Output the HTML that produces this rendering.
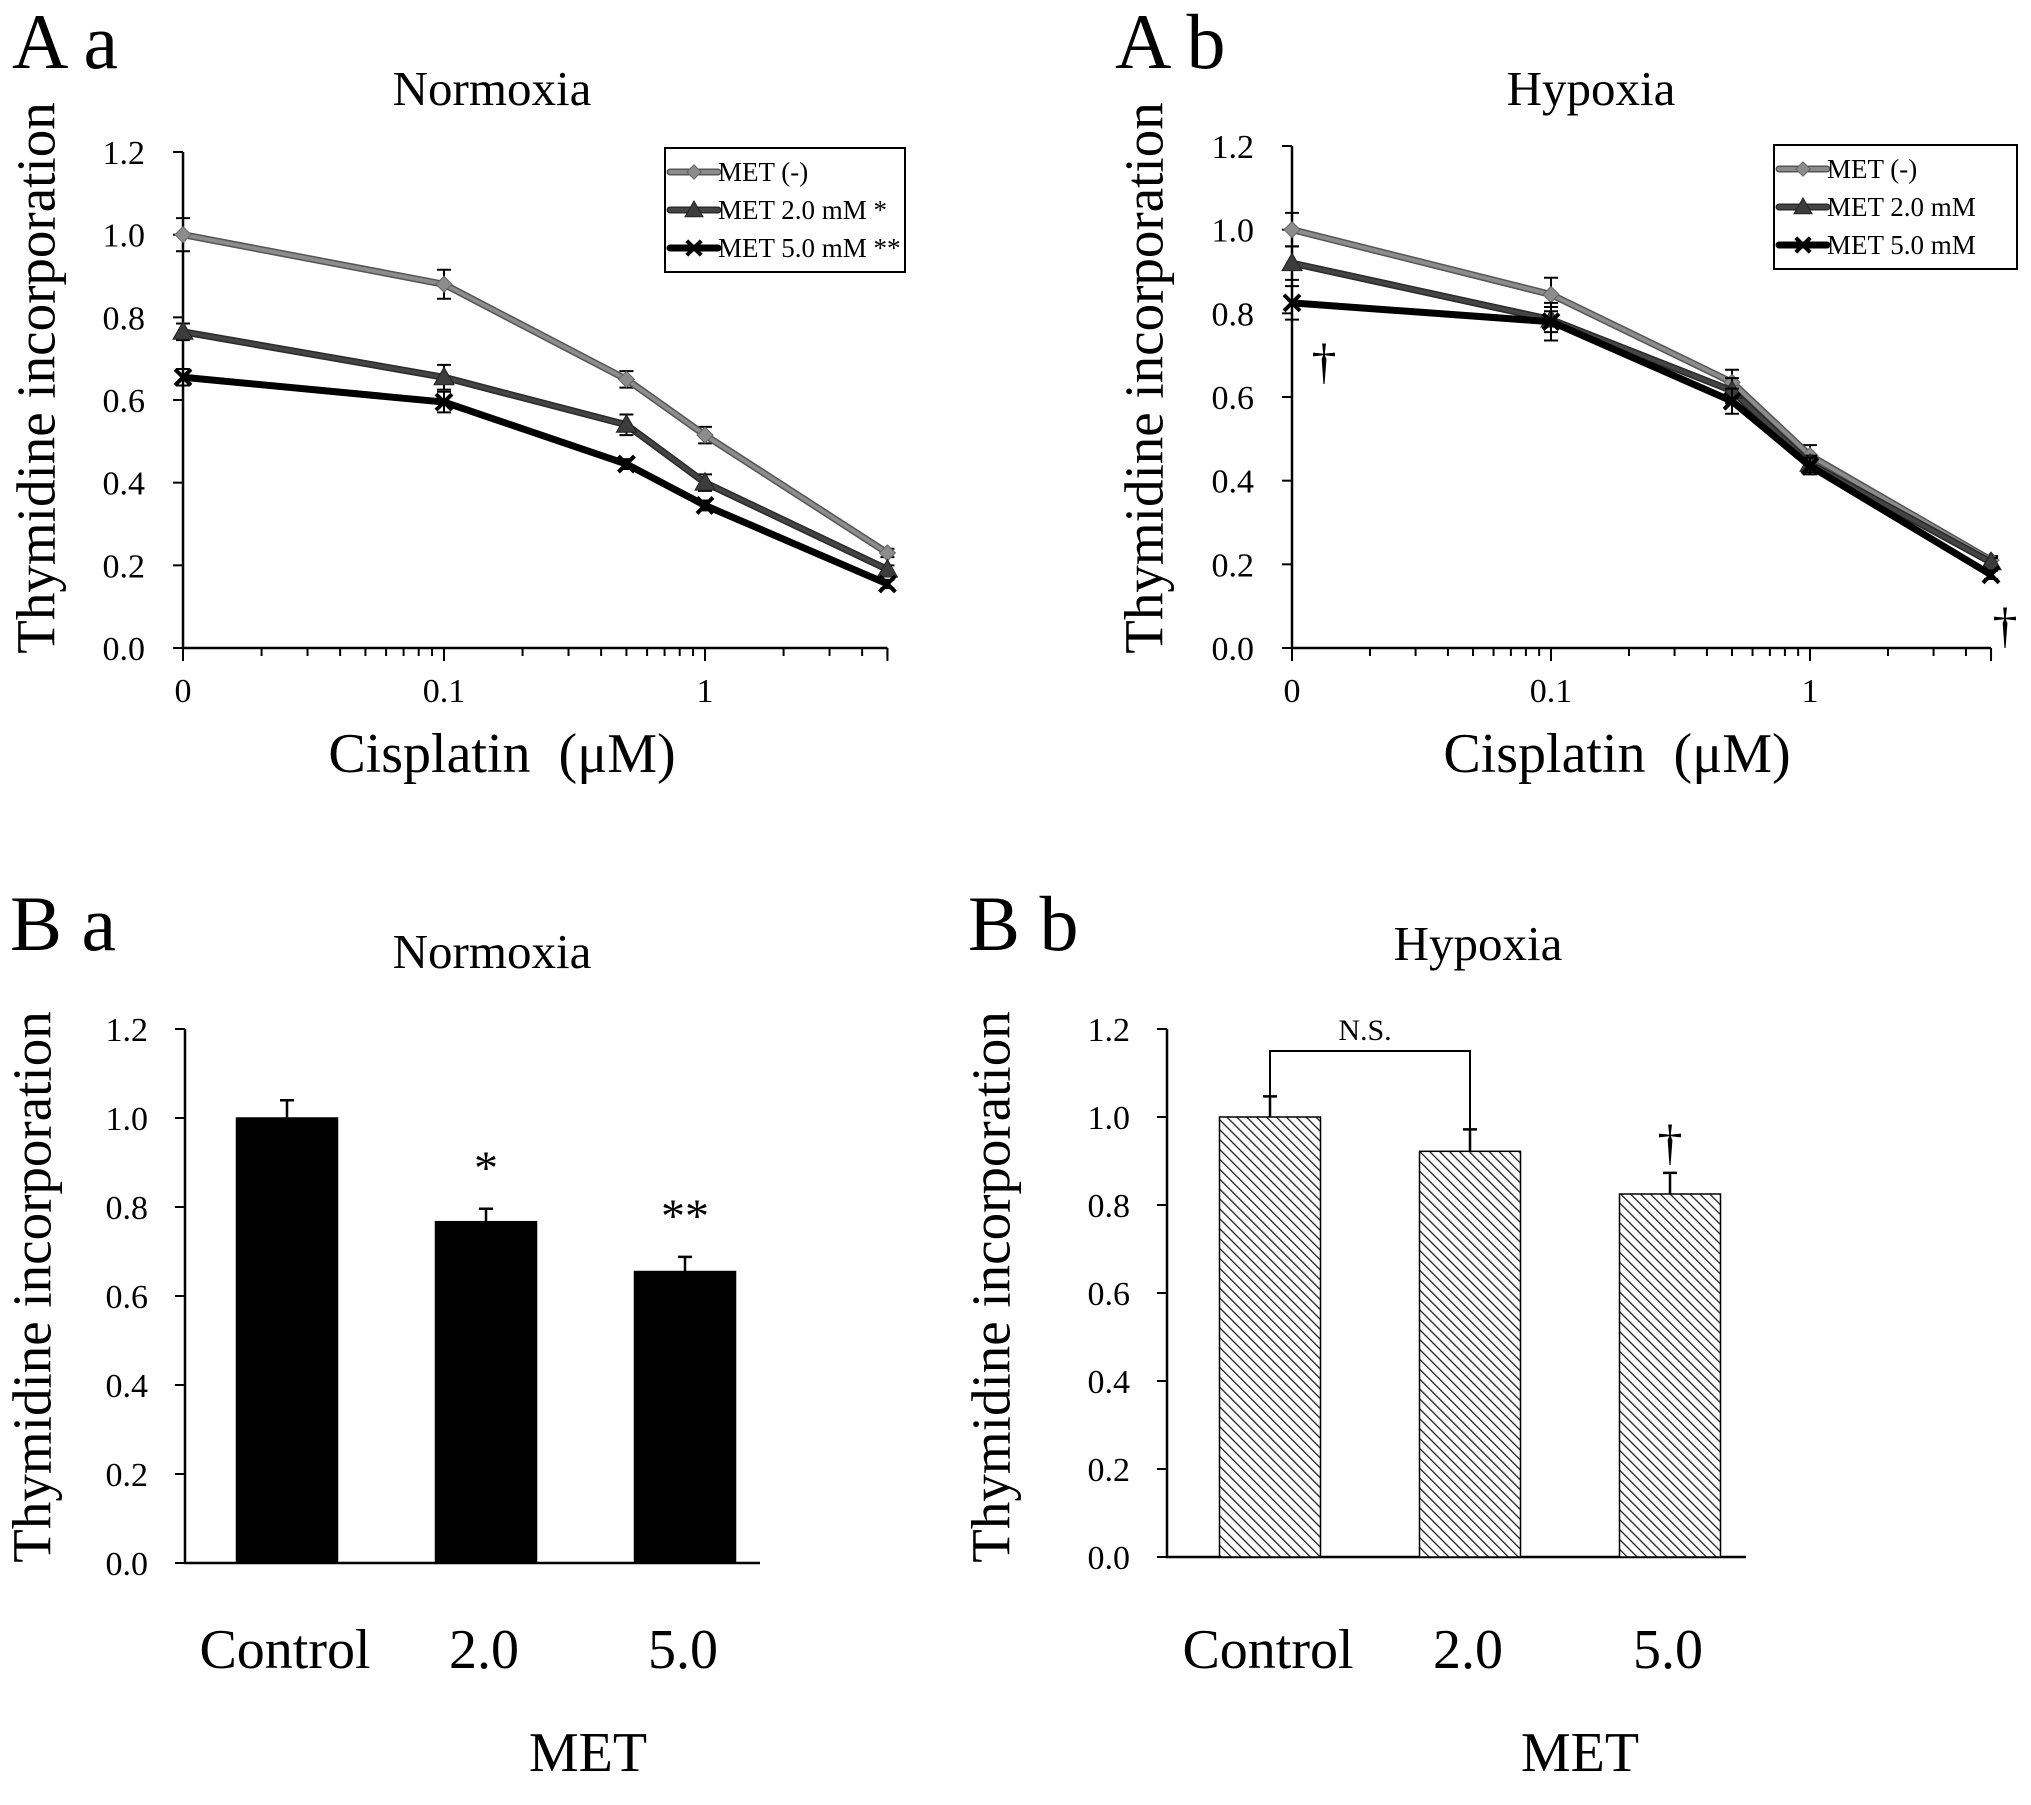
<!DOCTYPE html>
<html><head><meta charset="utf-8"><style>
html,body{margin:0;padding:0;background:#fff;}
svg{display:block;font-family:"Liberation Serif",serif;}
</style></head><body>
<svg id="fig" width="2031" height="1805" viewBox="0 0 2031 1805" xmlns="http://www.w3.org/2000/svg">
<defs>
<pattern id="hatch" patternUnits="userSpaceOnUse" width="7" height="7" patternTransform="rotate(-45)">
<rect width="7" height="7" fill="#fff"/><line x1="0" y1="0" x2="0" y2="7" stroke="#222" stroke-width="2.6"/>
</pattern>
</defs>
</svg>
<script>
// ---- data ----
const doseValues = [0, 0.1, 0.5, 1, 5];
const xTickLabels = ["0", "0.1", "1"];
const xTickValues = [0, 0.1, 1];
const yTickValues = [0, 0.2, 0.4, 0.6, 0.8, 1.0, 1.2];
const yTickLabels = ["0.0", "0.2", "0.4", "0.6", "0.8", "1.0", "1.2"];
const seriesNames = ["MET (-)", "MET 2.0 mM", "MET 5.0 mM"];
const normMetNone = [1.0, 0.88, 0.65, 0.515, 0.23];
const normMet2 = [0.765, 0.655, 0.54, 0.40, 0.19];
const normMet5 = [0.655, 0.595, 0.445, 0.345, 0.155];
const normErrNone = [0.04, 0.035, 0.02, 0.02, 0.01];
const normErr2 = [0.02, 0.03, 0.025, 0.02, 0.01];
const normErr5 = [0.02, 0.025, 0.012, 0.012, 0.01];
const hypMetNone = [1.0, 0.845, 0.635, 0.46, 0.21];
const hypMet2 = [0.92, 0.785, 0.615, 0.44, 0.205];
const hypMet5 = [0.825, 0.78, 0.59, 0.435, 0.175];
const hypErrNone = [0.04, 0.04, 0.03, 0.025, 0.01];
const hypErr2 = [0.04, 0.03, 0.03, 0.02, 0.01];
const hypErr5 = [0.04, 0.045, 0.03, 0.02, 0.01];
const barCategories = ["Control", "2.0", "5.0"];
const barNormValues = [1.0, 0.767, 0.655];
const barNormErr = [0.04, 0.029, 0.033];
const barHypValues = [1.0, 0.922, 0.825];
const barHypErr = [0.047, 0.05, 0.048];

const NS = "http://www.w3.org/2000/svg";
const svg = document.getElementById('fig');
function mk(tag, attrs, parent) {
  const e = document.createElementNS(NS, tag);
  for (const k in attrs) e.setAttribute(k, attrs[k]);
  (parent || svg).appendChild(e);
  return e;
}
function txt(x, y, s, size, anchor, parent, rot) {
  const t = mk('text', {x: x, y: y, 'font-size': size, 'text-anchor': anchor || 'start', fill: '#000'}, parent);
  if (rot) t.setAttribute('transform', 'rotate(-90 ' + x + ' ' + y + ')');
  t.textContent = s;
  return t;
}

function lineChart(cfg) {
  const g = mk('g', {});
  
  
  const xs = v => cfg.x01 + (Math.log10(Math.max(v, 0.01)) + 1) * cfg.dec;
  const ys = v => cfg.y0 - v / 1.2 * (cfg.y0 - cfg.yTop);
  const xEnd = xs(5);
  const l = txt(cfg.lblX, 68, cfg.label, 78, 'start', g);
  
  
  const t = txt(cfg.titleX, 105, cfg.title, 49, 'middle', g);
  
  
  const yt = txt(cfg.yTitleX, 378, 'Thymidine incorporation', 55, 'middle', g, true);
  yt.setAttribute('dominant-baseline', 'central');
  
  
  const xt = txt(cfg.xTitleX, 772, 'Cisplatin  (\u03bcM)', 56, 'middle', g);
  xt.style.whiteSpace = 'pre';
  
  
  const x0 = xs(0);
  const ax = mk('path', {d: 'M' + x0 + ' ' + cfg.yTop + 'V' + cfg.y0 + 'H' + xEnd, stroke: '#000', 'stroke-width': 2.5, fill: 'none'}, g);
  
  
  yTickValues.forEach((v, i) => {
    mk('line', {x1: x0 - 10, x2: x0, y1: ys(v), y2: ys(v), stroke: '#000', 'stroke-width': 2}, g);
    const tl = txt(x0 - 38, ys(v) + 12, yTickLabels[i], 34, 'end', g);
    
    
  });
  const minor = [];
  [0.01, 0.1, 1].forEach(d => { for (let k = 2; k <= 9; k++) { if (d * k <= 5) minor.push(d * k); } });
  minor.forEach(v => mk('line', {x1: xs(v), x2: xs(v), y1: cfg.y0, y2: cfg.y0 + 8, stroke: '#000', 'stroke-width': 2}, g));
  [0, 0.1, 1, 5].forEach(v => mk('line', {x1: xs(v), x2: xs(v), y1: cfg.y0, y2: cfg.y0 + 13, stroke: '#000', 'stroke-width': 2}, g));
  xTickValues.forEach((v, i) => {
    const tl = txt(xs(v), 702, xTickLabels[i], 34, 'middle', g);
    
    
  });
  const styles = [
    {outer: '#555', inner: '#8c8c8c', w: 7, iw: 4, marker: 'diamond', mc: '#8c8c8c'},
    {outer: '#2a2a2a', inner: '#444', w: 7, iw: 4, marker: 'tri', mc: '#3c3c3c'},
    {outer: '#000', inner: '#000', w: 7, iw: 7, marker: 'x', mc: '#000'}
  ];
  const names = ['series-met-none', 'series-met-2mm', 'series-met-5mm'];
  cfg.series.forEach((vals, si) => {
    const sg = mk('g', {}, g);
    
    
    const st = styles[si];
    const errs = cfg.errs[si];
    doseValues.forEach((d, i) => {
      const x = xs(d), yv = ys(vals[i]), e = errs[i] / 1.2 * (cfg.y0 - cfg.yTop);
      mk('path', {d: 'M' + x + ' ' + (yv - e) + 'V' + (yv + e) + 'M' + (x - 7) + ' ' + (yv - e) + 'H' + (x + 7) + 'M' + (x - 7) + ' ' + (yv + e) + 'H' + (x + 7), stroke: '#000', 'stroke-width': 2, fill: 'none'}, sg);
    });
    const pts = doseValues.map((d, i) => xs(d) + ',' + ys(vals[i])).join(' ');
    mk('polyline', {points: pts, fill: 'none', stroke: st.outer, 'stroke-width': st.w, 'stroke-linejoin': 'round'}, sg);
    if (st.iw !== st.w) mk('polyline', {points: pts, fill: 'none', stroke: st.inner, 'stroke-width': st.iw, 'stroke-linejoin': 'round'}, sg);
    doseValues.forEach((d, i) => {
      const m = drawMarker(st.marker, xs(d), ys(vals[i]), st.mc, sg, 1);
      
      
    });
  });
  const lg = mk('g', {}, g);
  
  
  mk('rect', {x: cfg.leg.x, y: cfg.leg.y, width: cfg.leg.w, height: 124, fill: '#fff', stroke: '#000', 'stroke-width': 2}, lg);
  const rows = [24, 62, 100];
  seriesNames.forEach((n, si) => {
    const eg = mk('g', {}, lg);
    
    
    const ry = cfg.leg.y + rows[si], st = styles[si];
    const lx1 = cfg.leg.x + 5, lx2 = cfg.leg.x + 53;
    mk('line', {x1: lx1, x2: lx2, y1: ry, y2: ry, stroke: st.outer, 'stroke-width': st.w, 'stroke-linecap': 'round'}, eg);
    if (st.iw !== st.w) mk('line', {x1: lx1, x2: lx2, y1: ry, y2: ry, stroke: st.inner, 'stroke-width': st.iw, 'stroke-linecap': 'round'}, eg);
    drawMarker(st.marker, (lx1 + lx2) / 2, ry, st.mc, eg, 0.9);
    txt(lx2, ry + 9, n + cfg.legSuffix[si], 27, 'start', eg);
  });
  (cfg.daggers || []).forEach(dg => {
    const d = txt(dg[0], dg[1], '\u2020', 50, 'middle', g);
    
    
  });
}
function drawMarker(type, x, y, c, parent, s) {
  if (type === 'diamond') {
    const r = 8 * s;
    return mk('path', {d: 'M' + x + ' ' + (y - r) + 'L' + (x + r) + ' ' + y + 'L' + x + ' ' + (y + r) + 'L' + (x - r) + ' ' + y + 'Z', fill: c, stroke: '#666', 'stroke-width': 1}, parent);
  }
  if (type === 'tri') {
    const r = 10 * s;
    return mk('path', {d: 'M' + x + ' ' + (y - r) + 'L' + (x + r) + ' ' + (y + r * 0.75) + 'L' + (x - r) + ' ' + (y + r * 0.75) + 'Z', fill: c, stroke: '#222', 'stroke-width': 1}, parent);
  }
  const r = 8 * s;
  return mk('path', {d: 'M' + (x - r) + ' ' + (y - r) + 'L' + (x + r) + ' ' + (y + r) + 'M' + (x + r) + ' ' + (y - r) + 'L' + (x - r) + ' ' + (y + r), stroke: c, 'stroke-width': 4, fill: 'none'}, parent);
}

lineChart({name: 'chart-a-normoxia', label: 'A a', lblX: 12, title: 'Normoxia', titleX: 492, yTitleX: 36, xTitleX: 502,
  x01: 444, dec: 261, yTop: 152, y0: 648,
  series: [normMetNone, normMet2, normMet5], errs: [normErrNone, normErr2, normErr5],
  leg: {x: 665, y: 148, w: 240}, legSuffix: ['', ' *', ' **']});
lineChart({name: 'chart-b-hypoxia', label: 'A b', lblX: 1115, title: 'Hypoxia', titleX: 1591, yTitleX: 1144, xTitleX: 1617,
  x01: 1551, dec: 259, yTop: 146, y0: 648,
  series: [hypMetNone, hypMet2, hypMet5], errs: [hypErrNone, hypErr2, hypErr5],
  leg: {x: 1774, y: 145, w: 243}, legSuffix: ['', '', ''],
  daggers: [[1324, 378], [2005, 642]]});

function barChart(cfg) {
  const g = mk('g', {});
  
  
  const ys = v => cfg.y0 - v / 1.2 * (cfg.y0 - cfg.yTop);
  const xc = i => cfg.c0 + i * cfg.step;
  const l = txt(cfg.lblX, 950, cfg.label, 78, 'start', g);
  
  
  const t = txt(cfg.titleX, cfg.titleY, cfg.title, 49, 'middle', g);
  
  
  const yt = txt(cfg.yTitleX, 1287, 'Thymidine incorporation', 55, 'middle', g, true);
  yt.setAttribute('dominant-baseline', 'central');
  
  
  const ax = mk('path', {d: 'M' + cfg.x0 + ' ' + cfg.yTop + 'V' + cfg.y0 + 'H' + cfg.xEnd, stroke: '#000', 'stroke-width': 2.5, fill: 'none'}, g);
  
  
  yTickValues.forEach((v, i) => {
    mk('line', {x1: cfg.x0 - 10, x2: cfg.x0, y1: ys(v), y2: ys(v), stroke: '#000', 'stroke-width': 2}, g);
    const tl = txt(cfg.x0 - 37, ys(v) + 12, yTickLabels[i], 34, 'end', g);
    
    
  });
  cfg.values.forEach((v, i) => {
    const x = xc(i), w = 101;
    const b = mk('rect', {x: x - w / 2, y: ys(v), width: w, height: cfg.y0 - ys(v), fill: cfg.fill, stroke: '#000', 'stroke-width': 1.5}, g);
    
    
    const et = ys(v + cfg.errs[i]);
    const eb = mk('path', {d: 'M' + x + ' ' + ys(v) + 'V' + et + 'M' + (x - 7) + ' ' + et + 'H' + (x + 7), stroke: '#000', 'stroke-width': 2.5, fill: 'none'}, g);
    
    
    const cl = txt(x - 2, 1668, barCategories[i], 56, 'middle', g);
    
    
  });
  const mt = txt(cfg.metX, 1771, 'MET', 56, 'middle', g);
  
  
  return {g: g, ys: ys, xc: xc};
}
const ba = barChart({name: 'chart-c-bar-normoxia', label: 'B a', lblX: 10, title: 'Normoxia', titleX: 492, titleY: 968, yTitleX: 32,
  x0: 185, xEnd: 760, yTop: 1029, y0: 1563, c0: 287, step: 199, values: barNormValues, errs: barNormErr, fill: '#000', metX: 588});
[['*', 1], ['**', 2]].forEach(a => {
  const s = txt(ba.xc(a[1]), ba.ys(barNormValues[a[1]] + barNormErr[a[1]]) - 25, a[0], 48, 'middle', ba.g);
  
  
});
const bb = barChart({name: 'chart-d-bar-hypoxia', label: 'B b', lblX: 968, title: 'Hypoxia', titleX: 1478, titleY: 960, yTitleX: 991,
  x0: 1167, xEnd: 1746, yTop: 1029, y0: 1557, c0: 1270, step: 200, values: barHypValues, errs: barHypErr, fill: 'url(#hatch)', metX: 1580});
const br = mk('path', {d: 'M' + bb.xc(0) + ' ' + bb.ys(barHypValues[0]) + 'V1051H' + bb.xc(1) + 'V' + bb.ys(barHypValues[1]), stroke: '#000', 'stroke-width': 2, fill: 'none'}, bb.g);


const nst = txt((bb.xc(0) + bb.xc(1)) / 2 - 5, 1040, 'N.S.', 30, 'middle', bb.g);


const dg = txt(bb.xc(2), bb.ys(barHypValues[2] + barHypErr[2]) - 14, '\u2020', 50, 'middle', bb.g);


</script>
</body></html>
